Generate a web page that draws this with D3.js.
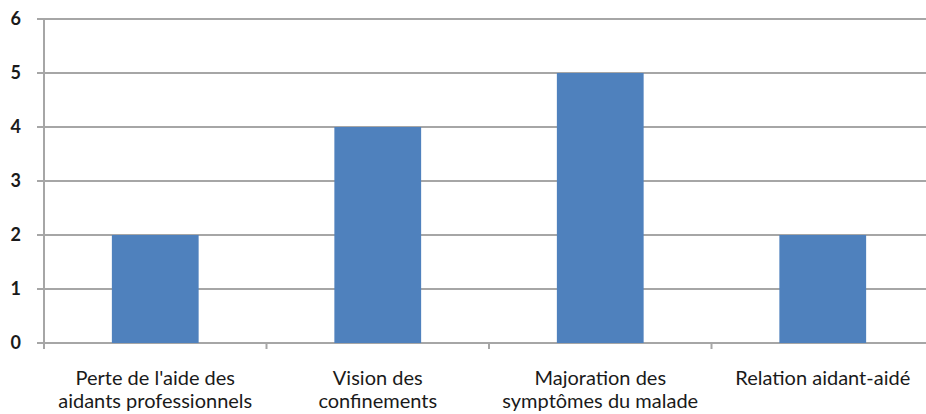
<!DOCTYPE html>
<html><head><meta charset="utf-8">
<script src="https://cdn.jsdelivr.net/npm/d3@7"></script>
<style>body{margin:0;background:#fff}svg{display:block}</style>
</head><body>
<svg id="c" width="926" height="414"></svg>
<script>
const categories = [["Perte de l'aide des","aidants professionnels"],["Vision des","confinements"],["Majoration des","symptômes du malade"],["Relation aidant-aidé"]];
const values = [2, 4, 5, 2];
const yTicks = [0, 1, 2, 3, 4, 5, 6];

(function(){
const svg = d3.select("#c");
const mLeft = 44, mRight = 934, mTop = 19, mBottom = 343;
const x = d3.scaleBand().domain(d3.range(categories.length)).range([mLeft, mRight]).paddingInner(0.61).paddingOuter(0.305);
const xb = d3.scaleBand().domain(d3.range(categories.length)).range([mLeft, mRight]).padding(0);
const y = d3.scaleLinear().domain([0, 6]).range([mBottom, mTop]);
const font = "Lato, 'Open Sans', sans-serif";
const grid = "#a6a6a6";

svg.append("g").selectAll("line").data(yTicks).join("line")
  .attr("x1", mLeft - 7).attr("x2", 926)
  .attr("y1", d => y(d)).attr("y2", d => y(d))
  .attr("stroke", grid).attr("stroke-width", 2);
svg.append("line").attr("x1", mLeft).attr("x2", mLeft).attr("y1", y(6)).attr("y2", mBottom + 6)
  .attr("stroke", grid).attr("stroke-width", 2);
svg.append("g").selectAll("line").data(d3.range(1, categories.length)).join("line")
  .attr("x1", d => xb(d)).attr("x2", d => xb(d)).attr("y1", mBottom).attr("y2", mBottom + 6)
  .attr("stroke", grid).attr("stroke-width", 2);

svg.append("g").selectAll("rect").data(values).join("rect")
  .attr("x", (d, i) => x(i)).attr("width", x.bandwidth())
  .attr("y", d => y(d)).attr("height", d => y(0) - y(d))
  .attr("fill", "#4f81bd");

svg.append("g").selectAll("text").data(yTicks).join("text")
  .attr("x", 21).attr("y", d => y(d)).attr("dy", "0.36em")
  .attr("text-anchor", "end").attr("font-family", font).attr("font-size", 18).attr("font-weight", 700)
  .attr("fill", "#1a1a1a").text(d => d);

const xl = svg.append("g").selectAll("text").data(categories).join("text")
  .attr("x", (d, i) => xb(i) + xb.bandwidth() / 2).attr("y", 385)
  .attr("text-anchor", "middle").attr("font-family", font).attr("font-size", 20).attr("fill", "#1a1a1a");
xl.selectAll("tspan").data(d => d).join("tspan")
  .attr("x", function(){ return this.parentNode.getAttribute("x"); })
  .attr("dy", (d, i) => i === 0 ? 0 : 23).text(d => d);
})();
</script>
</body></html>
